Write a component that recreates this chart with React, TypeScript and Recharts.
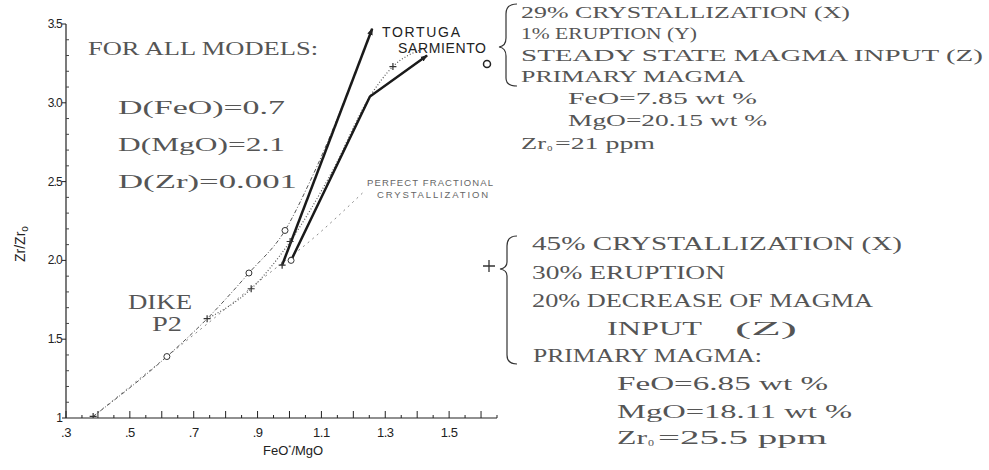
import React from "react";
import { ComposedChart, Line, Scatter, XAxis, YAxis } from "recharts";

// model curves, FeO*/MgO (x) against Zr/Zr0 (y)
const perfectFractional = [
  { x: 0.385, y: 1.01 },
  { x: 0.616, y: 1.39 },
  { x: 0.75, y: 1.61 },
  { x: 0.9, y: 1.86 },
  { x: 1.08, y: 2.15 },
  { x: 1.23, y: 2.43 },
];

const steadyModel = [
  { x: 0.385, y: 1.01 },
  { x: 0.616, y: 1.39 },
  { x: 0.742, y: 1.63 },
  { x: 0.873, y: 1.92 },
  { x: 0.986, y: 2.19 },
  { x: 1.064, y: 2.5 },
  { x: 1.259, y: 3.47 },
];

const decreaseModel = [
  { x: 0.742, y: 1.63 },
  { x: 0.88, y: 1.82 },
  { x: 1.002, y: 2.12 },
  { x: 1.13, y: 2.55 },
  { x: 1.252, y: 3.04 },
  { x: 1.324, y: 3.23 },
  { x: 1.415, y: 3.34 },
];

// observed trends
const tortuga = [
  { x: 0.977, y: 1.97 },
  { x: 1.259, y: 3.47 },
];

const sarmiento = [
  { x: 1.005, y: 2.0 },
  { x: 1.252, y: 3.04 },
  { x: 1.431, y: 3.3 },
];

const circleMarks = [
  { x: 0.616, y: 1.39 },
  { x: 0.873, y: 1.92 },
  { x: 0.986, y: 2.19 },
  { x: 1.005, y: 2.0 },
];

const plusMarks = [
  { x: 0.385, y: 1.01 },
  { x: 0.742, y: 1.63 },
  { x: 0.88, y: 1.82 },
  { x: 1.002, y: 2.12 },
  { x: 0.977, y: 1.97 },
  { x: 1.324, y: 3.23 },
];

const xTicks = [
  0.3, 0.35, 0.4, 0.45, 0.5, 0.55, 0.6, 0.65, 0.7, 0.75, 0.8, 0.85, 0.9, 0.95,
  1.0, 1.05, 1.1, 1.15, 1.2, 1.25, 1.3, 1.35, 1.4, 1.45, 1.5, 1.55, 1.6, 1.65,
];
const xLabelValues = [0.3, 0.5, 0.7, 0.9, 1.1, 1.3, 1.5];
const xLabelTexts = [".3", ".5", ".7", ".9", "1.1", "1.3", "1.5"];

const yTicks = [
  1.0, 1.1, 1.2, 1.3, 1.4, 1.5, 1.6, 1.7, 1.8, 1.9, 2.0, 2.1, 2.2, 2.3, 2.4,
  2.5, 2.6, 2.7, 2.8, 2.9, 3.0, 3.1, 3.2, 3.3, 3.4, 3.5,
];
const yLabelValues = [1, 1.5, 2, 2.5, 3, 3.5];
const yLabelTexts = ["1", "1.5", "2.0", "2.5", "3.0", "3.5"];

const same = (a: number, b: number) => Math.abs(a - b) < 1e-6;

const sans = "Liberation Sans, Arial, sans-serif";
const typewriter = "Liberation Serif, DejaVu Serif, serif";

const XTick = (props: any) => {
  const { x, y, payload } = props;
  const v = payload.value;
  const i = xLabelValues.findIndex((l) => same(l, v));
  const major = same(Math.round(v * 10), v * 10);
  return (
    <g>
      <line x1={x} x2={x} y1={y} y2={y - (major ? 7 : 3)} stroke="#222" strokeWidth={1} />
      {i >= 0 && (
        <text x={x} y={y + 19} textAnchor="middle" fontSize={13} fill="#222" fontFamily={sans}
          letterSpacing={-0.5}>
          {xLabelTexts[i]}
        </text>
      )}
    </g>
  );
};

const YTick = (props: any) => {
  const { x, y, payload } = props;
  const i = yLabelValues.findIndex((l) => same(l, payload.value));
  return (
    <g>
      {i >= 0 ? (
        <>
          <line x1={x - 4} x2={x} y1={y} y2={y} stroke="#222" />
          <text x={x - 4} y={y + 4} textAnchor="end" fontSize={12} fill="#222"
            fontFamily={sans} letterSpacing={-0.8}>
            {yLabelTexts[i]}
          </text>
        </>
      ) : (
        <line x1={x} x2={x + 3} y1={y} y2={y} stroke="#444" />
      )}
    </g>
  );
};

const Circle = (props: any) => (
  <circle cx={props.cx} cy={props.cy} r={3} fill="#fff" stroke="#333" strokeWidth={1} />
);

const Plus = (props: any) => (
  <path d={`M${props.cx - 3.5},${props.cy}h7M${props.cx},${props.cy - 3.5}v7`}
    stroke="#333" strokeWidth={1.2} />
);

function Notes() {
  const tw = { fontFamily: typewriter, fill: "#555", lengthAdjust: "spacingAndGlyphs" as const };
  return (
    <svg width={989} height={470} style={{ position: "absolute", left: 0, top: 0, pointerEvents: "none" }}>
      <defs>
        <marker id="arrow" viewBox="0 0 10 10" refX="9" refY="5" markerWidth="7" markerHeight="7"
          orient="auto-start-reverse" markerUnits="userSpaceOnUse">
          <path d="M0,1 L10,5 L0,9 z" fill="#222" />
        </marker>
      </defs>

      <text {...tw} x={88} y={55} fontSize={19} textLength={230}>FOR ALL MODELS:</text>
      <text {...tw} x={118} y={114} fontSize={19} textLength={167}>D(FeO)=0.7</text>
      <text {...tw} x={118} y={151} fontSize={19} textLength={167}>D(MgO)=2.1</text>
      <text {...tw} x={118} y={188} fontSize={19} textLength={179}>D(Zr)=0.001</text>
      <text {...tw} x={128} y={309} fontSize={21} textLength={64}>DIKE</text>
      <text {...tw} x={152} y={331} fontSize={21} textLength={30}>P2</text>

      <text x={382} y={37} fontSize={14} fontFamily={sans} fill="#222" textLength={78}
        lengthAdjust="spacing">TORTUGA</text>
      <text x={398} y={53} fontSize={14} fontFamily={sans} fill="#222" textLength={88}
        lengthAdjust="spacing">SARMIENTO</text>
      <circle cx={487} cy={64} r={3.5} fill="none" stroke="#222" strokeWidth={1.5} />
      <text x={367} y={186} fontSize={9.5} fontFamily={sans} fill="#666" textLength={126}
        lengthAdjust="spacing">PERFECT FRACTIONAL</text>
      <text x={377} y={198} fontSize={9.5} fontFamily={sans} fill="#666" textLength={111}
        lengthAdjust="spacing">CRYSTALLIZATION</text>

      {/* upper model description */}
      <path d="M517,4 Q506,4 506,14 L506,38 Q506,46 499,47 Q506,48 506,56 L506,78 Q506,86 517,86"
        fill="none" stroke="#333" strokeWidth={1.2} />
      <text {...tw} x={521} y={18} fontSize={17} textLength={329}>29% CRYSTALLIZATION (X)</text>
      <text {...tw} x={521} y={39} fontSize={17} textLength={176}>1% ERUPTION (Y)</text>
      <text {...tw} x={521} y={61} fontSize={17} textLength={462}>STEADY STATE MAGMA INPUT (Z)</text>
      <text {...tw} x={521} y={82} fontSize={17} textLength={224}>PRIMARY MAGMA</text>
      <text {...tw} x={568} y={104} fontSize={17} textLength={189}>FeO=7.85 wt %</text>
      <text {...tw} x={568} y={126} fontSize={17} textLength={199}>MgO=20.15 wt %</text>
      <text {...tw} x={521} y={149} fontSize={17} textLength={25}>Zr</text>
      <text {...tw} x={547} y={151} fontSize={11}>o</text>
      <text {...tw} x={555} y={149} fontSize={17} textLength={100}>=21 ppm</text>

      {/* lower model description */}
      <path d="M489,260v12M483,266h12" stroke="#333" strokeWidth={1.3} />
      <path d="M517,236 Q507,236 507,246 L507,262 Q507,268 500,269 Q507,270 507,276 L507,355 Q507,364 517,364"
        fill="none" stroke="#333" strokeWidth={1.2} />
      <text {...tw} x={532} y={250} fontSize={18} textLength={370}>45% CRYSTALLIZATION (X)</text>
      <text {...tw} x={532} y={279} fontSize={18} textLength={193}>30% ERUPTION</text>
      <text {...tw} x={532} y={307} fontSize={18} textLength={341}>20% DECREASE OF MAGMA</text>
      <text {...tw} x={607} y={335} fontSize={18} textLength={95}>INPUT</text>
      <text {...tw} x={735} y={335} fontSize={18} textLength={62}>(Z)</text>
      <text {...tw} x={533} y={362} fontSize={18} textLength={229}>PRIMARY MAGMA:</text>
      <text {...tw} x={617} y={390} fontSize={18} textLength={211}>FeO=6.85 wt %</text>
      <text {...tw} x={617} y={418} fontSize={18} textLength={235}>MgO=18.11 wt %</text>
      <text {...tw} x={617} y={444} fontSize={18} textLength={30}>Zr</text>
      <text {...tw} x={648} y={446} fontSize={12}>o</text>
      <text {...tw} x={658} y={444} fontSize={18} textLength={169}>=25.5 ppm</text>

      {/* axis titles */}
      <text transform="translate(25,262) rotate(-90)" fontSize={14} fontFamily={sans} fill="#222">
        Zr/Zr<tspan fontSize={10} dy={3}>o</tspan>
      </text>
      <text x={263} y={455} fontSize={13} fontFamily={sans} fill="#222">
        FeO<tspan fontSize={8} dy={-5}>*</tspan><tspan dy={5}>/MgO</tspan>
      </text>
    </svg>
  );
}

export default function App() {
  return (
    <div style={{ position: "absolute", left: 0, top: 0, width: 989, height: 470, background: "#fff" }}>
      <ComposedChart width={989} height={470} margin={{ top: 24, right: 492, bottom: 22, left: 36 }}>
        <XAxis type="number" dataKey="x" domain={[0.3, 1.65]} ticks={xTicks} interval={0}
          allowDataOverflow tickSize={0} tickMargin={0} tickLine={false} height={30}
          axisLine={{ stroke: "#222", strokeWidth: 1.2 }} tick={<XTick />} />
        <YAxis type="number" dataKey="y" domain={[1, 3.5]} ticks={yTicks} interval={0}
          allowDataOverflow tickSize={0} tickMargin={0} tickLine={false} width={30}
          axisLine={{ stroke: "#222", strokeWidth: 1.2 }} tick={<YTick />} />

        <Line data={perfectFractional} dataKey="y" type="monotone" stroke="#8a8a8a"
          strokeWidth={1} strokeDasharray="2 4" dot={false} isAnimationActive={false} />
        <Line data={steadyModel} dataKey="y" type="monotone" stroke="#555"
          strokeWidth={1} strokeDasharray="4 2 1 2" dot={false} isAnimationActive={false} />
        <Line data={decreaseModel} dataKey="y" type="monotone" stroke="#555"
          strokeWidth={1.2} strokeDasharray="1 2" dot={false} isAnimationActive={false} />
        <Line data={tortuga} dataKey="y" type="linear" stroke="#1a1a1a" strokeWidth={2.5}
          dot={false} isAnimationActive={false} markerEnd="url(#arrow)" />
        <Line data={sarmiento} dataKey="y" type="linear" stroke="#1a1a1a" strokeWidth={2.5}
          dot={false} isAnimationActive={false} markerEnd="url(#arrow)" />

        <Scatter data={circleMarks} dataKey="y" shape={<Circle />} isAnimationActive={false} />
        <Scatter data={plusMarks} dataKey="y" shape={<Plus />} isAnimationActive={false} />
      </ComposedChart>
      <Notes />
    </div>
  );
}
